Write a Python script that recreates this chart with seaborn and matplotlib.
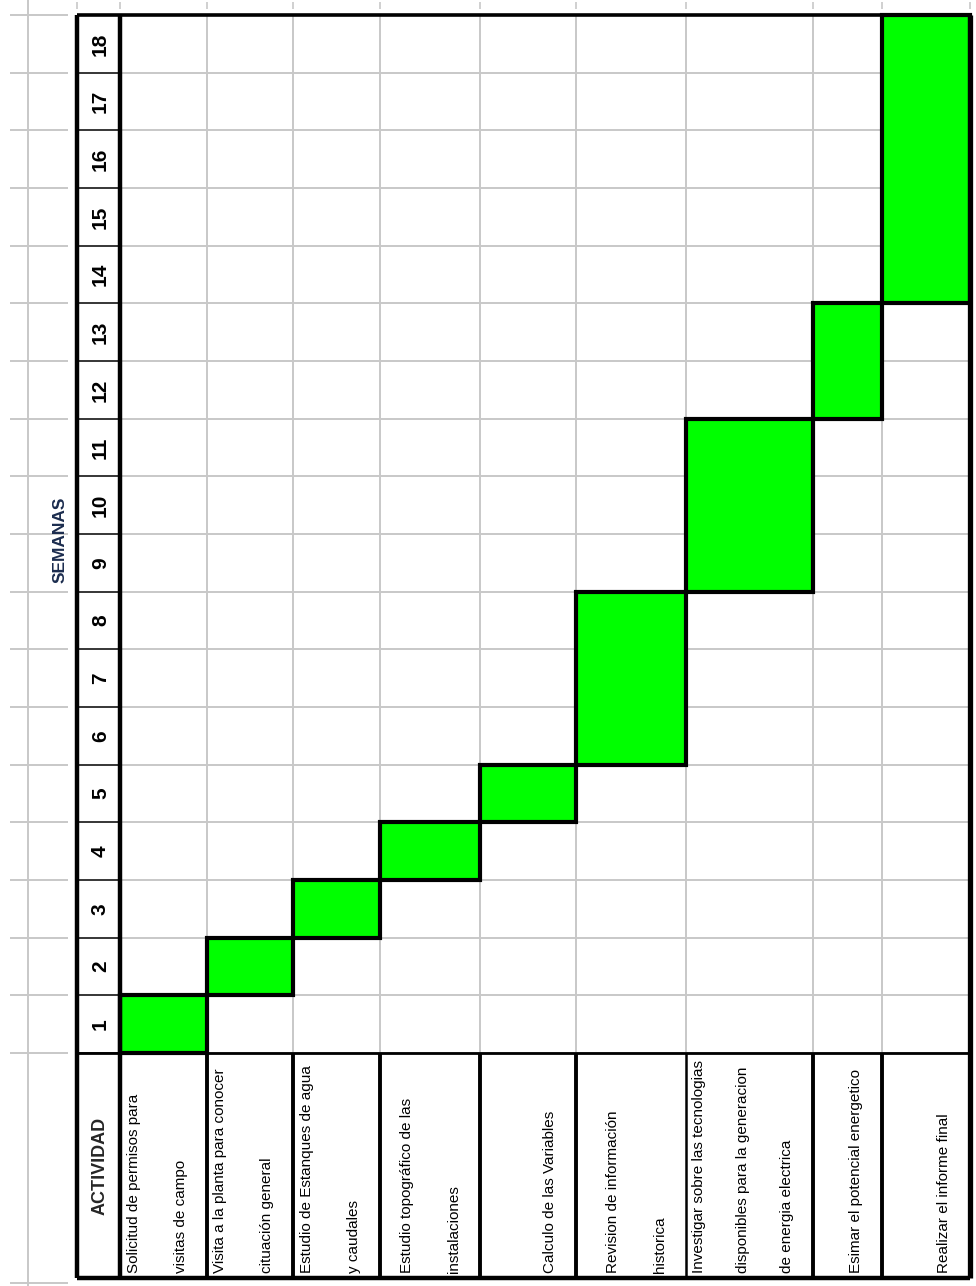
import matplotlib
matplotlib.use("Agg")
import matplotlib.pyplot as plt
import seaborn as sns
import pandas as pd

sns.set_theme(style="white")
plt.rcParams['font.family'] = ['Liberation Sans', 'DejaVu Sans']

# data
activities = [
    ["Solicitud de permisos para", "visitas de campo"],
    ["Visita a la planta para conocer", "cituación general"],
    ["Estudio de Estanques de agua", "y caudales"],
    ["Estudio topográfico de las", "instalaciones"],
    ["Calculo de las Variables"],
    ["Revision de información", "historica"],
    ["Investigar sobre las tecnologias", "disponibles para la generacion", "de energia electrica"],
    ["Esimar el potencial energetico"],
    ["Realizar el informe final"],
]
start_week = [1, 2, 3, 4, 5, 6, 9, 12, 14]
end_week = [1, 2, 3, 4, 5, 8, 11, 13, 18]
weeks = list(range(1, 19))

df = pd.DataFrame({"start": start_week, "end": end_week})

# layout (x in pixels, y in weeks)
col_widths = [87, 86, 87, 100, 96, 110, 127, 69, 88]
STRIP_L, STRIP_R = 77, 120
PX = 57.67                      # pixels per week
col_edges = [STRIP_R]
for w in col_widths:
    col_edges.append(col_edges[-1] + w)
RIGHT = col_edges[-1]
TOP = 18.5
BASE = 0.5
LBL_BOT = BASE - 225 / PX
GREEN = "#00ff00"
GRID = "#c8c8c8"

fig = plt.figure(figsize=(9.76, 12.86), dpi=100)
ax = fig.add_axes([0, 0, 1, 1])
ax.set_xlim(0, 976)
ax.set_ylim(BASE - 233 / PX, TOP + 15 / PX)
ax.axis("off")

# spreadsheet gridlines
bounds = [w - 0.5 for w in weeks] + [TOP]
ax.hlines(bounds, 10, 68, color=GRID, lw=1.4, zorder=1)
ax.hlines(bounds[:-1], STRIP_R, RIGHT, color=GRID, lw=1.4, zorder=1)
ax.hlines([LBL_BOT - 5 / PX], 10, 68, color=GRID, lw=1.4, zorder=1)
ax.vlines(col_edges[1:-1], BASE, TOP, color=GRID, lw=1.4, zorder=1)
ax.vlines([28], BASE - 240 / PX, TOP + 15 / PX, color=GRID, lw=1.4, zorder=1)
ax.vlines([STRIP_L, STRIP_R] + col_edges[1:], TOP + 6 / PX, TOP + 13 / PX, color=GRID, lw=1.2, zorder=1)

# gantt bars
ax.bar(
    [col_edges[i] for i in range(len(df))],
    df["end"] - df["start"] + 1,
    width=col_widths,
    bottom=df["start"] - 0.5,
    align="edge",
    color=GREEN,
    edgecolor="black",
    linewidth=3.0,
    zorder=3,
)

# week number strip
ax.hlines(bounds[:-1], STRIP_L, STRIP_R, color="black", lw=1.1, zorder=4)
for w in weeks:
    ax.text((STRIP_L + STRIP_R) / 2 + 2, w, str(w), rotation=90, ha="center", va="center",
            rotation_mode="anchor", fontsize=15, fontweight="bold", color="black", zorder=5)

ax.text((STRIP_L + STRIP_R) / 2 + 2, LBL_BOT + 112 / PX, "ACTIVIDAD", rotation=90,
        ha="center", va="center", rotation_mode="anchor", fontsize=13, fontweight="bold")
ax.text(60, 9.4, "SEMANAS", rotation=90, ha="center", va="center", rotation_mode="anchor",
        fontsize=12.5, fontweight="bold", color="#1b2c4e")

# activity labels
for i, lines in enumerate(activities):
    n = len(lines)
    gap = 47 if n < 3 else 44
    for k, line in enumerate(lines):
        x = col_edges[i + 1] - 26 - (n - 1 - k) * gap
        ax.text(x, LBL_BOT + 5 / PX, line, rotation=90, ha="left", va="center",
                rotation_mode="anchor", fontsize=11, color="black", zorder=5)

# table borders
ax.hlines([BASE], STRIP_L, RIGHT, color="black", lw=2.0, zorder=4)
ax.vlines([e for e in col_edges[1:-1] if e != 686], LBL_BOT, BASE, color="black", lw=2.8, zorder=4)
ax.vlines([686], LBL_BOT, BASE, color="black", lw=1.8, zorder=4)
ax.vlines([STRIP_L, STRIP_R], LBL_BOT, TOP, color="black", lw=3.2, zorder=4)
ax.vlines([RIGHT], LBL_BOT, TOP, color="black", lw=3.8, zorder=4)
ax.hlines([TOP], STRIP_L, RIGHT, color="black", lw=2.6, zorder=4)
ax.hlines([LBL_BOT], STRIP_L, RIGHT, color="black", lw=3.2, zorder=4)

fig.savefig("out.png", dpi=100)
